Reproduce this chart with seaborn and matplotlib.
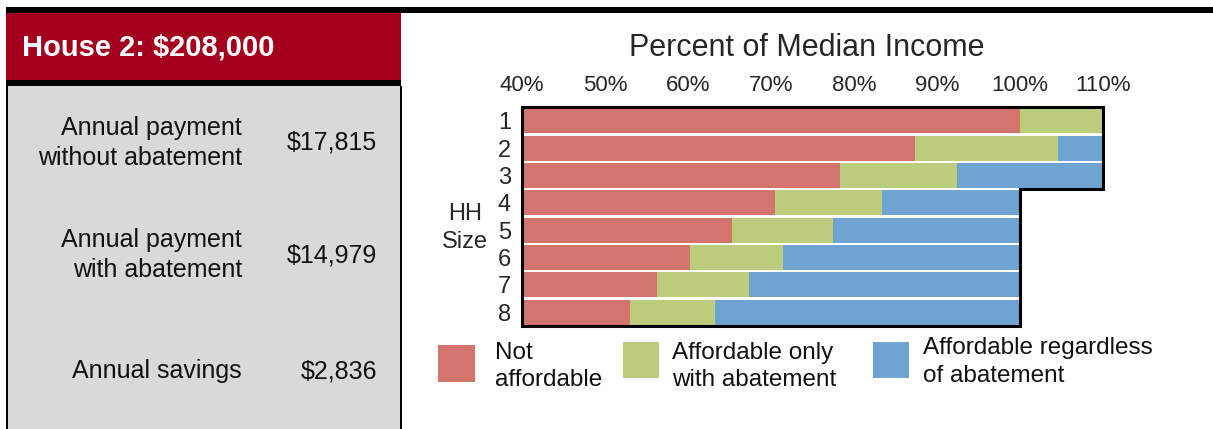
import matplotlib
matplotlib.use("Agg")
import matplotlib.pyplot as plt
from matplotlib.patches import Rectangle
import seaborn as sns
import pandas as pd

# ---- data ----
hh_sizes = ["1", "2", "3", "4", "5", "6", "7", "8"]
not_affordable_end = [100.0, 87.3, 78.3, 70.5, 65.3, 60.2, 56.3, 53.0]
abatement_end = [110.0, 104.6, 92.4, 83.4, 77.5, 71.4, 67.3, 63.3]
max_income = [110, 110, 110, 100, 100, 100, 100, 100]
tick_values = [40, 50, 60, 70, 80, 90, 100, 110]
tick_labels = ["40%", "50%", "60%", "70%", "80%", "90%", "100%", "110%"]
legend_labels = ["Not\naffordable", "Affordable only\nwith abatement", "Affordable regardless\nof abatement"]
header = "House 2: $208,000"
row_labels = ["Annual payment\nwithout abatement", "Annual payment\nwith abatement", "Annual savings"]
row_values = ["$17,815", "$14,979", "$2,836"]

RED = "#D4746F"
GREEN = "#BBCD7D"
BLUE = "#6FA3D2"
HEADER_RED = "#A3001E"
GRAY = "#D9D9D9"

sns.set_theme(style="white")
plt.rcParams["font.family"] = ["Liberation Sans", "DejaVu Sans"]

W, H = 1213, 429
fig = plt.figure(figsize=(W / 100, H / 100), dpi=100)
fig.patch.set_facecolor("white")


def fx(x):
    return x / W


def fy(y):
    return 1 - y / H


def rect(x0, y0, x1, y1, color, z=0):
    fig.add_artist(Rectangle((fx(x0), fy(y1)), fx(x1) - fx(x0), fy(y0) - fy(y1),
                             transform=fig.transFigure, facecolor=color,
                             edgecolor="none", zorder=z))


# ---- left panel ----
rect(6, 7, 1213, 13, "black")
rect(6, 13, 401, 80, HEADER_RED)
rect(6, 80, 401, 86, "black")
rect(6, 86, 401, 429, GRAY)
rect(6, 86, 7.5, 429, "black", z=1)
rect(400, 86, 402, 429, "black", z=1)

fig.text(fx(22), fy(47), header, color="white", fontsize=21, fontweight="bold",
         ha="left", va="center")
label_y = [143, 255, 371]
for lab, val, y in zip(row_labels, row_values, label_y):
    fig.text(fx(242), fy(y), lab, fontsize=18, ha="right", va="center",
             ma="right", linespacing=1.32, color="#111111")
    fig.text(fx(377), fy(y), val, fontsize=18, ha="right", va="center", color="#111111")

# ---- chart ----
ax = fig.add_axes([fx(522), fy(326), fx(1103) - fx(522), fy(107) - fy(326)])
df = pd.DataFrame({"hh": hh_sizes, "red": not_affordable_end,
                   "green": abatement_end, "blue": max_income})
bw = 0.91
sns.barplot(data=df, x="blue", y="hh", orient="h", color=BLUE, width=bw,
            saturation=1, linewidth=0, ax=ax)
sns.barplot(data=df, x="green", y="hh", orient="h", color=GREEN, width=bw,
            saturation=1, linewidth=0, ax=ax)
sns.barplot(data=df, x="red", y="hh", orient="h", color=RED, width=bw,
            saturation=1, linewidth=0, ax=ax)

ax.set_xlim(40, 110)
ax.set_ylim(7.5, -0.5)
ax.set_facecolor("white")
for s in ax.spines.values():
    s.set_visible(False)
ax.xaxis.tick_top()
ax.set_xticks(tick_values)
ax.set_xticklabels(tick_labels, fontsize=16)
ax.tick_params(axis="x", length=0, pad=8)
ax.tick_params(axis="y", length=0, pad=8, labelsize=17)
ax.set_xlabel("")
ax.set_ylabel("")

# outline of the bar area
ox = [40, 110, 110, 100, 100, 40, 40]
oy = [-0.5, -0.5, 2.5, 2.5, 7.5, 7.5, -0.5]
ax.plot(ox, oy, color="black", lw=2.2, clip_on=False, zorder=5,
        solid_joinstyle="miter")

fig.text(fx(465), fy(228), "HH\nSize", fontsize=17, ha="center", va="center",
         linespacing=1.3)
fig.text(fx(807), fy(48), "Percent of Median Income", fontsize=22,
         ha="center", va="center")

# ---- legend ----
leg_boxes = [(438, 345, 475, 382), (623, 342, 659, 378), (873, 342, 909, 378)]
leg_text = [(495, 366.5), (672, 366.5), (923, 362)]
for (x0, y0, x1, y1), (tx, ty), c, lab in zip(leg_boxes, leg_text, [RED, GREEN, BLUE], legend_labels):
    rect(x0, y0, x1, y1, c)
    fig.text(fx(tx), fy(ty), lab, fontsize=17.5, ha="left", va="center",
             linespacing=1.3, color="#111111")

fig.savefig("out.png", dpi=100)
